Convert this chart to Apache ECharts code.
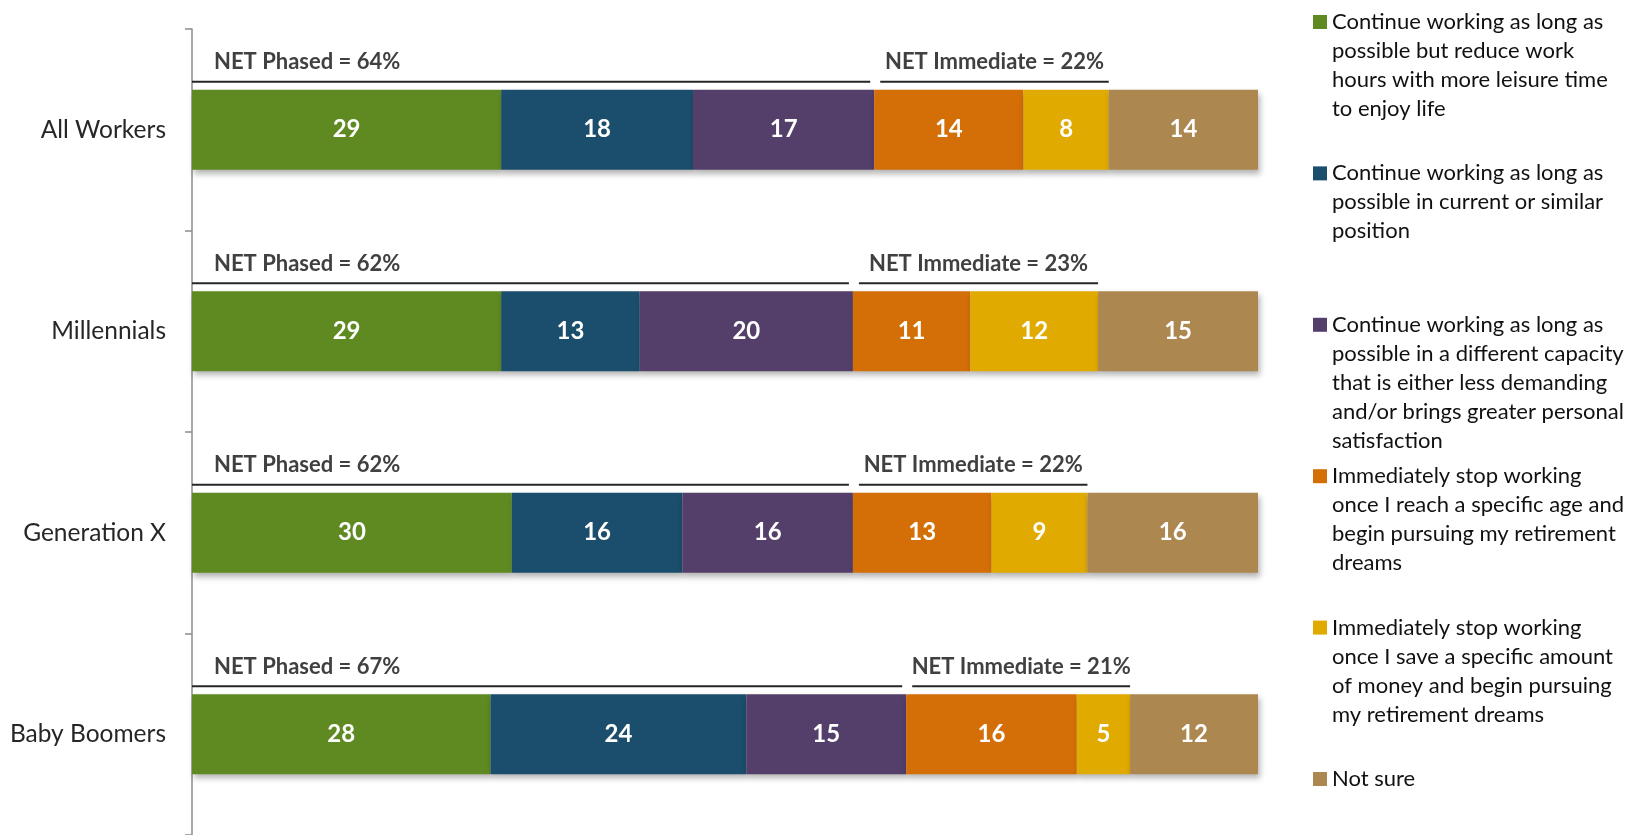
<!DOCTYPE html>
<html>
<head>
<meta charset="utf-8">
<script src="https://cdn.jsdelivr.net/npm/echarts@6/dist/echarts.min.js"></script>
<style>
html,body{margin:0;padding:0;background:#fff;}
#chart{width:1631px;height:835px;}
</style>
</head>
<body>
<div id="chart"></div>
<script>
// ---- data ----
const categories = ['All Workers', 'Millennials', 'Generation X', 'Baby Boomers'];
const seriesNames = [
  'Continue working as long as\npossible but reduce work\nhours with more leisure time\nto enjoy life',
  'Continue working as long as\npossible in current or similar\nposition',
  'Continue working as long as\npossible in a different capacity\nthat is either less demanding\nand/or brings greater personal\nsatisfaction',
  'Immediately stop working\nonce I reach a specific age and\nbegin pursuing my retirement\ndreams',
  'Immediately stop working\nonce I save a specific amount\nof money and begin pursuing\nmy retirement dreams',
  'Not sure'
];
const reduceHours   = [29, 29, 30, 28];
const currentJob    = [18, 13, 16, 24];
const differentRole = [17, 20, 16, 15];
const stopAtAge     = [14, 11, 13, 16];
const stopAtAmount  = [8, 12, 9, 5];
const notSure       = [14, 15, 16, 12];
const netPhased     = [64, 62, 62, 67];
const netImmediate  = [22, 23, 22, 21];
const colors = ['#5F8A21', '#1A4E6C', '#533F6A', '#D46F07', '#E1AA00', '#AC874F'];

// ---- layout / style ----
const FONT = 'Lato';
const BAR_W = 80;
const LEG_LH = 29;
const LEG_FIRST = 22;
const LEG_STEP = 151.4;
const seriesValues = [reduceHours, currentJob, differentRole, stopAtAge, stopAtAmount, notSure];

const barSeries = seriesValues.map((vals, i) => ({
  name: seriesNames[i],
  type: 'bar',
  stack: 'total',
  data: vals,
  barWidth: BAR_W,
  itemStyle: {
    color: colors[i],
    shadowBlur: 6,
    shadowOffsetX: 2,
    shadowOffsetY: 4,
    shadowColor: 'rgba(0,0,0,0.30)'
  },
  label: {
    show: true,
    position: 'inside',
    color: '#ffffff',
    fontFamily: FONT,
    fontWeight: 'bold',
    fontSize: 24
  },
  emphasis: { disabled: true },
  z: 2
}));

const netSeries = {
  type: 'custom',
  name: 'net',
  data: categories.map((c, i) => [i, netPhased[i], netImmediate[i]]),
  encode: { y: 0, x: [1, 2] },
  z: 3,
  silent: true,
  renderItem: function (params, api) {
    const ci = api.value(0), ph = api.value(1), im = api.value(2);
    const p0 = api.coord([0, ci]);
    const p1 = api.coord([ph, ci]);
    const p2 = api.coord([ph + im, ci]);
    const lineY = p0[1] - BAR_W / 2 - 8;
    const textY = lineY - 19.5;
    const a = p1[0] + 6;
    return {
      type: 'group',
      children: [
        { type: 'line', shape: { x1: p0[0], y1: lineY, x2: p1[0] - 4, y2: lineY },
          style: { stroke: '#262626', lineWidth: 2 } },
        { type: 'line', shape: { x1: a, y1: lineY, x2: p2[0], y2: lineY },
          style: { stroke: '#262626', lineWidth: 2 } },
        { type: 'text', style: { text: 'NET Phased = ' + ph + '%', x: p0[0] + 22, y: textY,
            verticalAlign: 'middle', align: 'left', fill: '#404040',
            font: 'bold 22px ' + FONT } },
        { type: 'text', style: { text: 'NET Immediate = ' + im + '%', x: (a + p2[0]) / 2, y: textY,
            verticalAlign: 'middle', align: 'center', fill: '#404040',
            font: 'bold 22px ' + FONT } }
      ]
    };
  }
};

const legends = seriesNames.map((name, i) => {
  const n = name.split('\n').length;
  return {
    data: [name],
    orient: 'vertical',
    left: 1313,
    top: LEG_FIRST + i * LEG_STEP - (n - 0.5) * LEG_LH,
    padding: 0,
    itemWidth: 14,
    itemHeight: 14,
    icon: 'rect',
    selectedMode: false,
    formatter: (nm) => '\n'.repeat(n - 1) + nm,
    textStyle: { fontFamily: FONT, fontSize: 22, lineHeight: LEG_LH, color: '#111111' }
  };
});

const chart = echarts.init(document.getElementById('chart'), null, { renderer: 'canvas' });
chart.setOption({
  animation: false,
  color: colors,
  legend: legends,
  grid: { left: 192, width: 1066, top: 29, height: 812, containLabel: false },
  xAxis: { type: 'value', min: 0, max: 100, show: false },
  yAxis: {
    type: 'category',
    data: categories,
    inverse: true,
    axisLine: { show: true, lineStyle: { color: '#8C8C8C', width: 1.5 } },
    axisTick: { show: true, length: 7, lineStyle: { color: '#8C8C8C', width: 1.5 } },
    axisLabel: { margin: 26, color: '#262626', fontFamily: FONT, fontSize: 24.5 },
    splitLine: { show: false }
  },
  series: barSeries.concat([netSeries])
});
</script>
</body>
</html>
